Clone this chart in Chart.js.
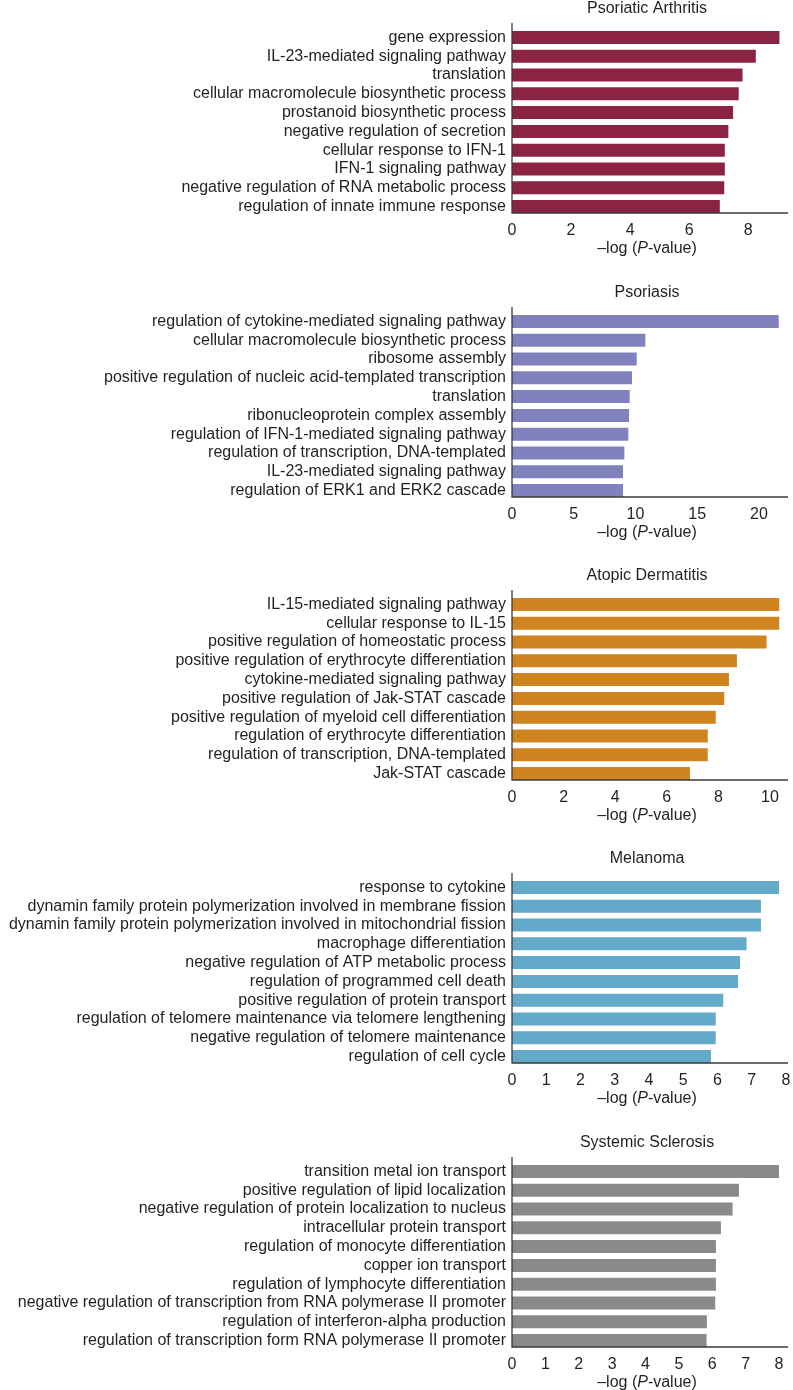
<!DOCTYPE html>
<html>
<head>
<meta charset="utf-8">
<script src="https://cdn.jsdelivr.net/npm/chart.js@4.4.1/dist/chart.umd.min.js"></script>
<style>
  body { margin: 0; background: #fff; }
  .panel { position: absolute; left: 0; width: 793px; height: 284px; }
</style>
</head>
<body>
<div class="panel" style="top:0px"><canvas id="c1" width="793" height="284"></canvas></div>
<div class="panel" style="top:284px"><canvas id="c2" width="793" height="284"></canvas></div>
<div class="panel" style="top:567px"><canvas id="c3" width="793" height="284"></canvas></div>
<div class="panel" style="top:850px"><canvas id="c4" width="793" height="284"></canvas></div>
<div class="panel" style="top:1134px"><canvas id="c5" width="793" height="284"></canvas></div>
<script>
// data

var paLabels = ['gene expression', 'IL-23-mediated signaling pathway', 'translation',
  'cellular macromolecule biosynthetic process', 'prostanoid biosynthetic process',
  'negative regulation of secretion', 'cellular response to IFN-1', 'IFN-1 signaling pathway',
  'negative regulation of RNA metabolic process', 'regulation of innate immune response'];
var paValues = [9.06, 8.26, 7.81, 7.68, 7.49, 7.33, 7.21, 7.21, 7.19, 7.04];

var psLabels = ['regulation of cytokine-mediated signaling pathway', 'cellular macromolecule biosynthetic process',
  'ribosome assembly', 'positive regulation of nucleic acid-templated transcription', 'translation',
  'ribonucleoprotein complex assembly', 'regulation of IFN-1-mediated signaling pathway',
  'regulation of transcription, DNA-templated', 'IL-23-mediated signaling pathway',
  'regulation of ERK1 and ERK2 cascade'];
var psValues = [21.6, 10.8, 10.1, 9.72, 9.53, 9.48, 9.42, 9.1, 8.99, 8.99];

var adLabels = ['IL-15-mediated signaling pathway', 'cellular response to IL-15',
  'positive regulation of homeostatic process', 'positive regulation of erythrocyte differentiation',
  'cytokine-mediated signaling pathway', 'positive regulation of Jak-STAT cascade',
  'positive regulation of myeloid cell differentiation', 'regulation of erythrocyte differentiation',
  'regulation of transcription, DNA-templated', 'Jak-STAT cascade'];
var adValues = [10.36, 10.36, 9.87, 8.72, 8.41, 8.23, 7.9, 7.59, 7.59, 6.9];

var melLabels = ['response to cytokine', 'dynamin family protein polymerization involved in membrane fission',
  'dynamin family protein polymerization involved in mitochondrial fission', 'macrophage differentiation',
  'negative regulation of ATP metabolic process', 'regulation of programmed cell death',
  'positive regulation of protein transport', 'regulation of telomere maintenance via telomere lengthening',
  'negative regulation of telomere maintenance', 'regulation of cell cycle'];
var melValues = [7.8, 7.27, 7.27, 6.85, 6.66, 6.6, 6.17, 5.95, 5.95, 5.81];

var ssLabels = ['transition metal ion transport', 'positive regulation of lipid localization',
  'negative regulation of protein localization to nucleus', 'intracellular protein transport',
  'regulation of monocyte differentiation', 'copper ion transport',
  'regulation of lymphocyte differentiation', 'negative regulation of transcription from RNA polymerase II promoter',
  'regulation of interferon-alpha production', 'regulation of transcription form RNA polymerase II promoter'];
var ssValues = [8.0, 6.8, 6.61, 6.26, 6.11, 6.11, 6.11, 6.09, 5.84, 5.83];

var FONT = '"Liberation Sans", Arial, Helvetica, sans-serif';
var INK = '#231f20';

// panel title, axis lines (sitting on the last bar) and x title with italic P
var textPlugin = {
  id: 'panelText',
  afterDraw: function (chart) {
    var ctx = chart.ctx;
    var a = chart.chartArea;
    var cx = (a.left + a.right) / 2 - 3;
    var base = a.bottom - 3;
    ctx.save();
    ctx.strokeStyle = '#3a3a3a';
    ctx.lineWidth = 1.3;
    ctx.beginPath();
    ctx.moveTo(a.left, a.top - 5);
    ctx.lineTo(a.left, base);
    ctx.lineTo(a.right, base);
    ctx.stroke();

    ctx.fillStyle = INK;
    ctx.textBaseline = 'middle';
    ctx.textAlign = 'center';
    ctx.font = '16px ' + FONT;
    ctx.fillText(chart.options.plugins.panelText.title, cx, 9);

    var parts = [['\u2013log (', '16px '], ['P', 'italic 16px '], ['-value)', '16px ']];
    var w = 0;
    parts.forEach(function (p) { ctx.font = p[1] + FONT; w += ctx.measureText(p[0]).width; });
    var x = cx - w / 2;
    ctx.textAlign = 'left';
    parts.forEach(function (p) {
      ctx.font = p[1] + FONT;
      ctx.fillText(p[0], x, a.bottom + 33);
      x += ctx.measureText(p[0]).width;
    });
    ctx.restore();
  }
};

function makeChart(id, title, labels, values, color, max, step) {
  return new Chart(id, {
    type: 'bar',
    data: {
      labels: labels,
      datasets: [{
        data: values,
        backgroundColor: color,
        borderWidth: 0,
        categoryPercentage: 1,
        barPercentage: 0.69
      }]
    },
    options: {
      indexAxis: 'y',
      responsive: false,
      animation: false,
      devicePixelRatio: 1,
      layout: { padding: { top: 28, right: 5, left: 0, bottom: 0 } },
      plugins: {
        legend: { display: false },
        tooltip: { enabled: false },
        panelText: { title: title }
      },
      scales: {
        x: {
          min: 0,
          max: max,
          grid: { display: false, drawTicks: false },
          border: { display: false },
          ticks: { stepSize: step, includeBounds: false, padding: 5, color: INK, font: { family: FONT, size: 16 } },
          afterBuildTicks: function (scale) {
            scale.ticks = scale.ticks.filter(function (t) {
              return Math.abs(t.value / step - Math.round(t.value / step)) < 1e-9;
            });
          },
          afterFit: function (scale) {
            scale.height = 68;
            scale.paddingLeft = 0;
            scale.paddingRight = 0;
          }
        },
        y: {
          grid: { display: false, drawTicks: false },
          border: { display: false },
          ticks: { padding: 6, color: INK, autoSkip: false, font: { family: FONT, size: 16 } },
          afterFit: function (scale) { scale.width = 512; }
        }
      }
    },
    plugins: [textPlugin]
  });
}

makeChart('c1', 'Psoriatic Arthritis', paLabels, paValues, '#8b2443', 9.35, 2);
makeChart('c2', 'Psoriasis', psLabels, psValues, '#8081bd', 22.35, 5);
makeChart('c3', 'Atopic Dermatitis', adLabels, adValues, '#d08420', 10.7, 2);
makeChart('c4', 'Melanoma', melLabels, melValues, '#63a9ca', 8.06, 1);
makeChart('c5', 'Systemic Sclerosis', ssLabels, ssValues, '#8a8a8a', 8.27, 1);
</script>
</body>
</html>
